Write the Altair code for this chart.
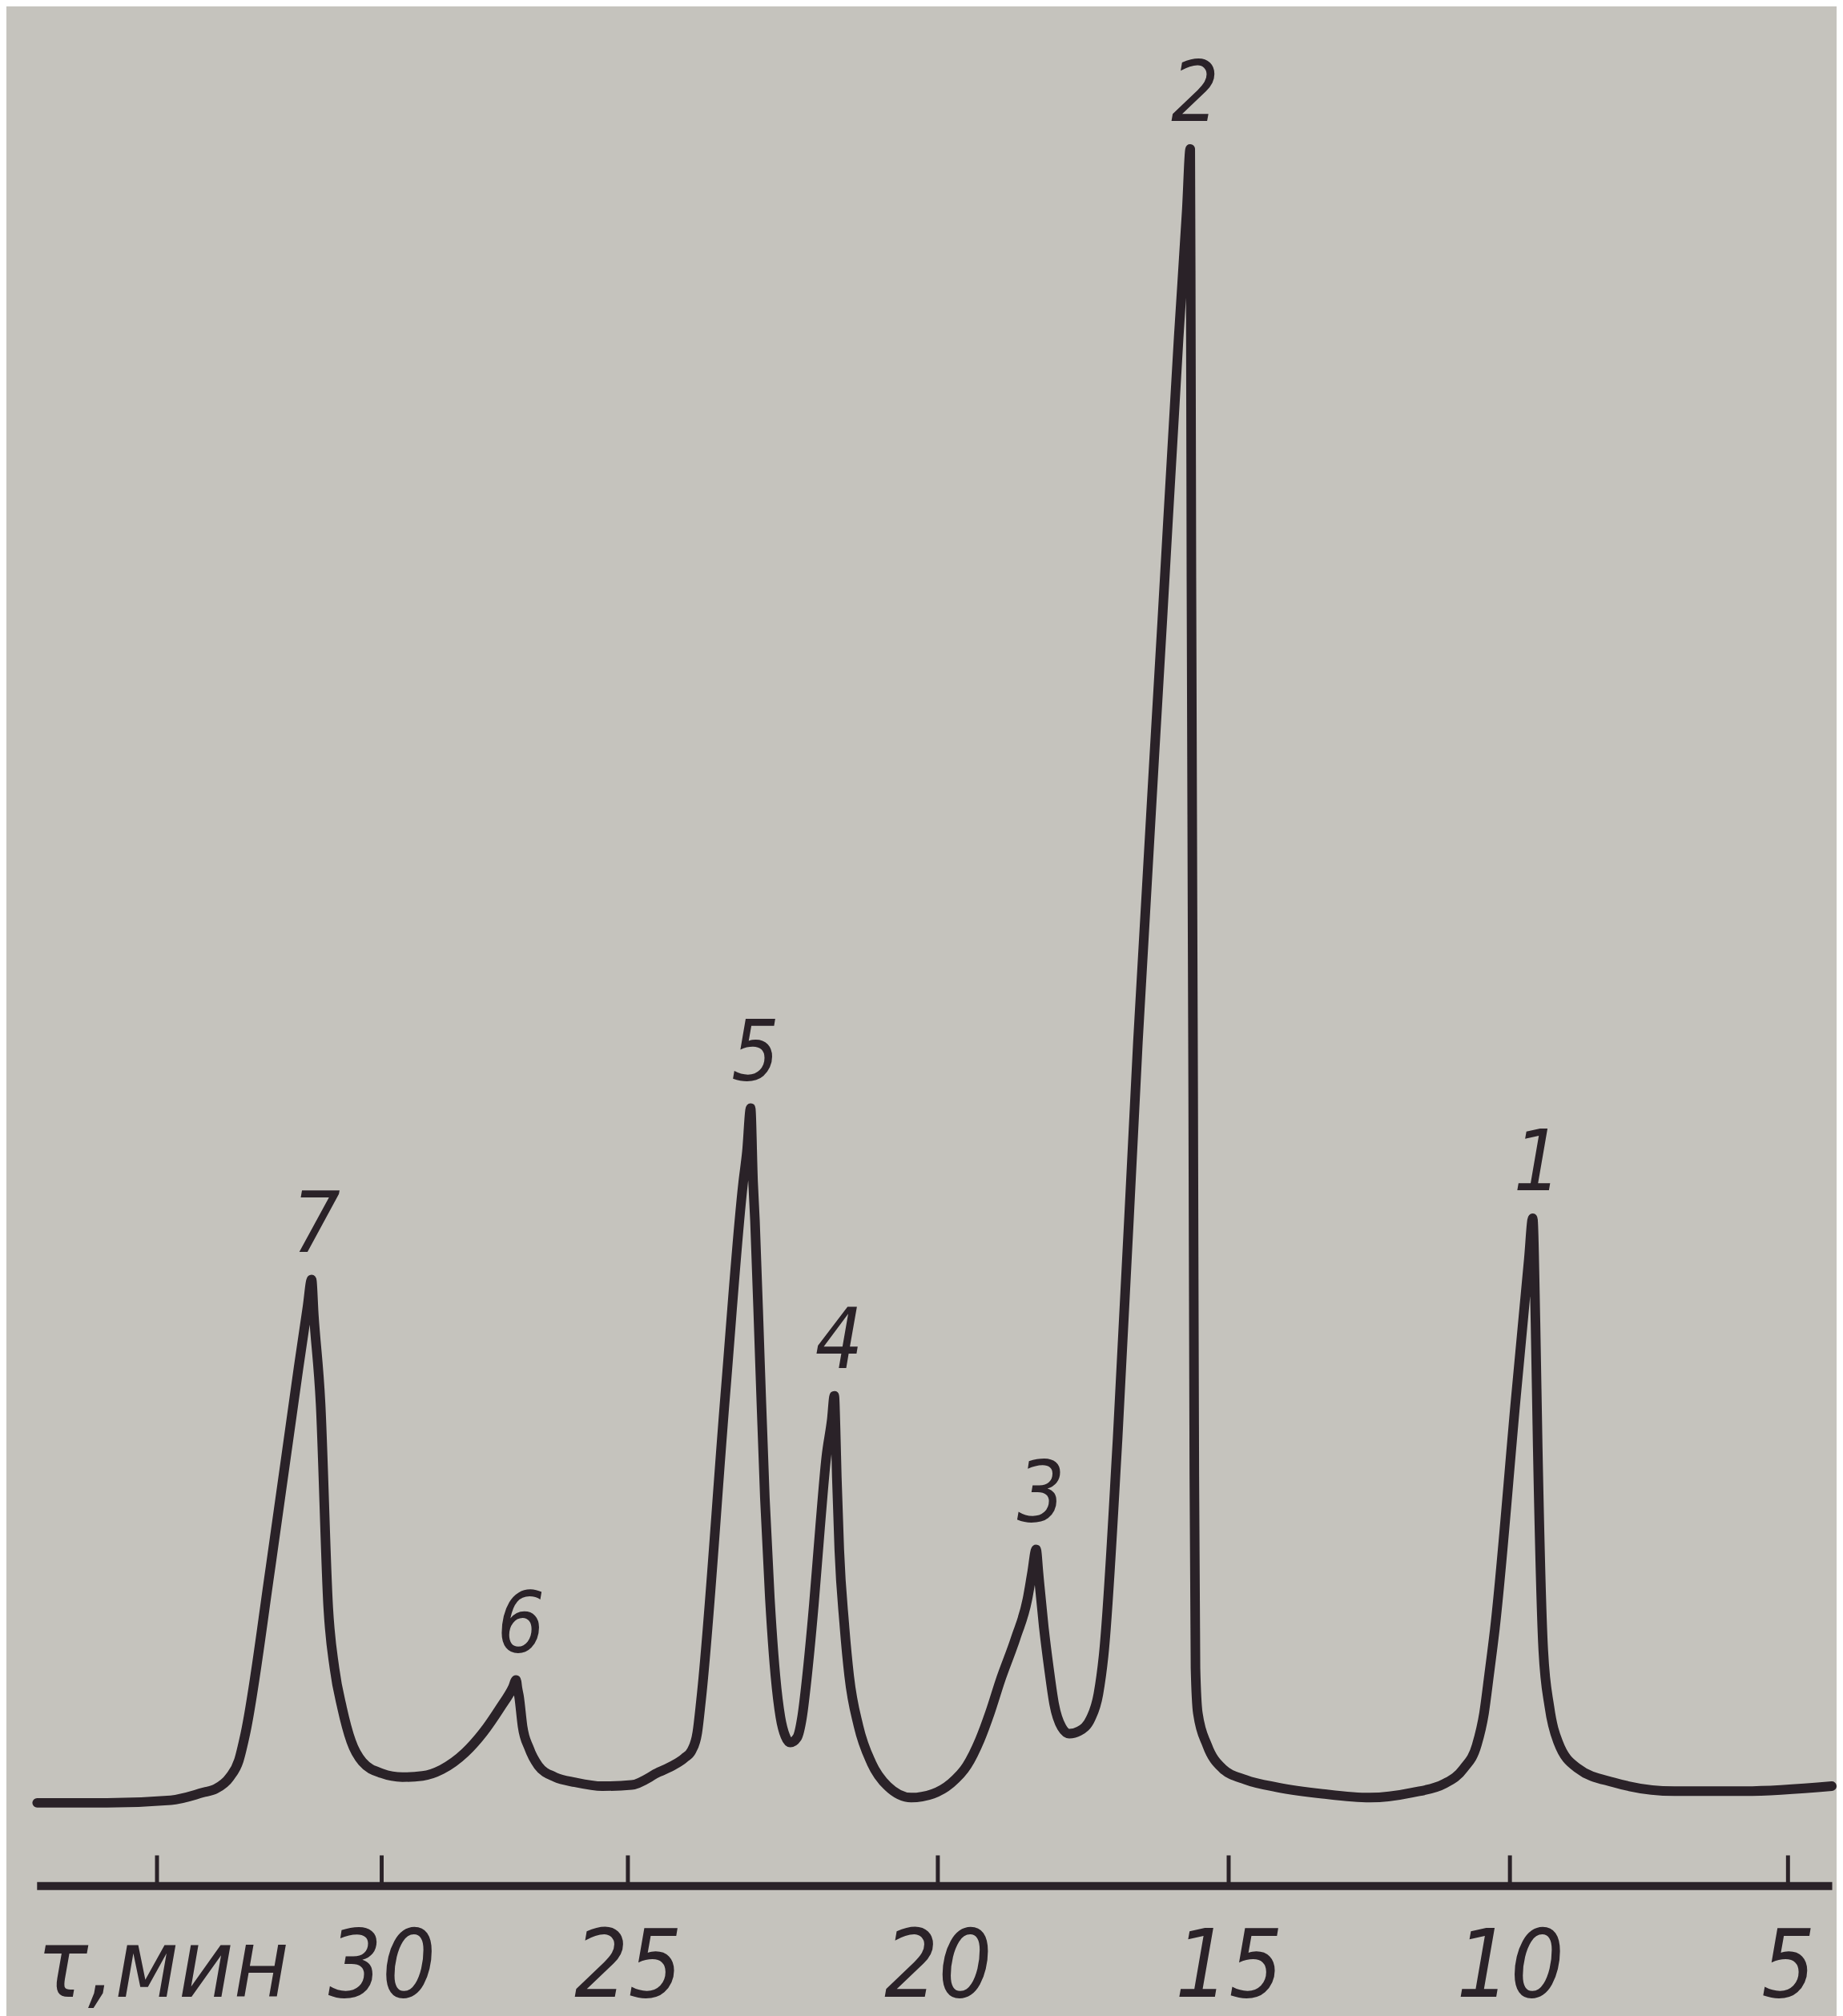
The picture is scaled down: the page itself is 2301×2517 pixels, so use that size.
import altair as alt
import pandas as pd

# ---- data (time in min, detector signal in arbitrary units) ----
TIME = [37.67, 36.11, 34.69, 33.98, 33.69, 33.38, 33.18, 33.04, 32.47, 31.85,
        31.65, 31.56, 31.51, 31.36, 31.19, 31.05, 30.88, 30.68, 30.43, 30.00,
        29.58, 29.17, 28.78, 28.31, 27.94, 27.58, 27.34, 27.27, 27.24, 27.21,
        27.14, 27.01, 26.82, 26.48, 26.07, 25.52, 24.94, 24.50, 24.28, 24.09,
        23.97, 23.88, 23.82, 23.43, 23.14, 23.08, 23.02, 22.98, 22.95, 22.87,
        22.79, 22.71, 22.62, 22.54, 22.46, 22.38, 22.27, 22.19, 22.11, 22.00,
        21.90, 21.80, 21.71, 21.67, 21.65, 21.63, 21.59, 21.51, 21.43, 21.28,
        21.07, 20.81, 20.43, 20.08, 19.78, 19.50, 19.28, 19.10, 18.93, 18.66,
        18.46, 18.38, 18.31, 18.27, 18.25, 18.18, 18.09, 18.00, 17.87, 17.74,
        17.57, 17.37, 17.24, 17.15, 16.91, 16.56, 16.14, 15.86, 15.72, 15.66,
        15.65, 15.64, 15.61, 15.59, 15.57, 15.53, 15.37, 15.11, 14.70, 14.13,
        13.33, 12.49, 11.74, 11.16, 10.82, 10.59, 10.46, 10.37, 10.27, 9.89,
        9.66, 9.59, 9.54, 9.50, 9.40, 9.29, 9.13, 8.78, 8.14, 7.04,
        5.78, 4.22]
SIGNAL = [4.77, 4.77, 4.92, 5.36, 5.58, 6.25, 7.20, 8.68, 18.40, 29.82,
          33.35, 34.90, 32.84, 27.75, 16.04, 12.51, 10.22, 8.31, 7.13, 6.47,
          6.25, 6.32, 6.69, 7.65, 8.82, 10.30, 11.40, 11.84, 11.33, 10.89,
          9.19, 7.94, 6.91, 6.25, 5.95, 5.73, 5.80, 6.54, 6.91, 7.35,
          7.79, 8.82, 10.67, 28.20, 40.50, 42.26, 44.77, 40.50, 38.29, 30.19,
          22.30, 16.56, 12.07, 9.71, 8.60, 8.24, 8.53, 9.71, 12.07, 16.19,
          20.61, 24.66, 26.87, 28.20, 26.35, 23.56, 19.36, 15.09, 12.07, 9.19,
          7.06, 5.73, 5.07, 5.29, 5.88, 6.91, 8.38, 10.00, 11.77, 14.27,
          16.49, 18.03, 19.36, 18.03, 17.30, 14.94, 12.51, 10.45, 9.12, 8.75,
          8.90, 9.64, 11.03, 13.24, 25.69, 48.60, 72.91, 89.11, 96.48, 100.0,
          89.85, 75.12, 45.65, 23.56, 12.51, 9.93, 8.09, 6.76, 6.10, 5.66,
          5.29, 5.07, 5.36, 5.88, 6.76, 8.09, 9.93, 12.14, 14.72, 28.20,
          36.08, 38.43, 32.40, 25.25, 13.54, 10.30, 8.24, 6.76, 5.95, 5.44,
          5.44, 5.73]

PEAK_ID = ["1", "2", "3", "4", "5", "6", "7"]
PEAK_TIME = [9.59, 15.66, 18.31, 21.67, 23.02, 27.27, 31.56]
PEAK_SIGNAL = [38.43, 100.0, 19.36, 28.20, 44.77, 11.84, 34.90]

TICK_VALUES = [35, 30, 25, 20, 15, 10, 5]
LABEL_VALUES = [30, 25, 20, 15, 10, 5]
X_TITLE = "τ,мин"

# ---- layout / style ----
W, H = 2253, 2352
# the hand-drawn time axis is not evenly spaced: piecewise scale through its ticks
X_DOMAIN = [37.68, 35, 30, 25, 20, 15, 10, 5, 4.22]
X_RANGE = [0, 151, 433, 742, 1131, 1496, 1849, 2198, 2253]
Y_DOMAIN = [0, 107.9]
INK = "#2a2228"
BG = "#c5c3bd"
FONT = "DejaVu Sans Condensed, Liberation Sans Narrow, DejaVu Sans"
LABEL_SIZE = 118
LABEL_PAD = 46

curve = pd.DataFrame({"i": range(len(TIME)), "t": TIME, "s": SIGNAL})
peaks = pd.DataFrame({"id": PEAK_ID, "t": PEAK_TIME, "s": PEAK_SIGNAL})
ticks = pd.DataFrame({"t": TICK_VALUES})

X = alt.X(
    "t:Q",
    scale=alt.Scale(domain=X_DOMAIN, range=X_RANGE, nice=False, zero=False),
    axis=alt.Axis(
        values=LABEL_VALUES, format="d", grid=False, ticks=False, tickSize=0,
        domain=True, domainColor=INK, domainWidth=10,
        labelFont=FONT, labelFontSize=LABEL_SIZE, labelFontStyle="italic",
        labelColor=INK, labelPadding=LABEL_PAD, labelOverlap=False, labelFlush=False,
        title=X_TITLE, titleFont=FONT, titleFontSize=LABEL_SIZE,
        titleFontStyle="italic", titleFontWeight="normal", titleColor=INK,
        titleX=0, titleY=LABEL_PAD, titleAlign="left", titleAnchor="start",
        titleBaseline="top", titleAngle=0,
    ),
)
Y = alt.Y("s:Q", scale=alt.Scale(domain=Y_DOMAIN, nice=False, zero=False), axis=None)

tick_layer = alt.Chart(ticks).mark_rule(color=INK, strokeWidth=5).encode(
    x=X, y=alt.value(H - 38), y2=alt.value(H)
)
line_layer = alt.Chart(curve).mark_line(
    color=INK, strokeWidth=12, interpolate="monotone", strokeCap="round", strokeJoin="round"
).encode(x=X, y=Y, order="i:Q")
label_layer = alt.Chart(peaks).mark_text(
    font=FONT, fontSize=105, fontStyle="italic", color=INK,
    baseline="alphabetic", align="center", dy=-35, dx=6,
).encode(x=X, y=Y, text="id:N")

chart = (
    alt.layer(tick_layer, line_layer, label_layer)
    .properties(width=W, height=H, background=BG,
                padding={"left": 32, "top": 0, "right": 0, "bottom": 0})
    .configure_view(stroke=None)
)

chart.save("out.html", embed_options={"renderer": "svg", "actions": False})
